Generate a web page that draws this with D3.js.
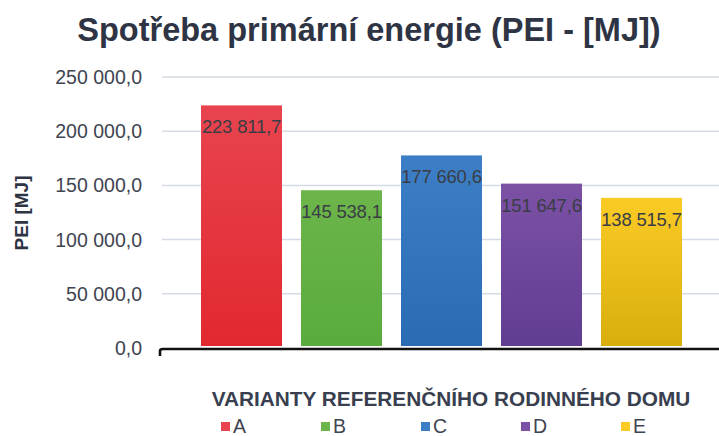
<!DOCTYPE html>
<html>
<head>
<meta charset="utf-8">
<script src="https://cdn.jsdelivr.net/npm/d3@7"></script>
<style>
  body { margin: 0; background: #fff; }
  svg { display: block; font-family: "Liberation Sans", Arial, sans-serif; }
</style>
</head>
<body>
<script>
// values
const categories = ["A", "B", "C", "D", "E"];
const values = [223811.7, 145538.1, 177660.6, 151647.6, 138515.7];
const yTicks = [0, 50000, 100000, 150000, 200000, 250000];
const topColors = ["#e8444f", "#6cb54a", "#3d7fc7", "#7b51a5", "#fbcb25"];
const bottomColors = ["#e2282f", "#5aab3d", "#2a6cb4", "#613d92", "#d8ae0d"];

const width = 719, height = 436;

const csLocale = d3.formatLocale({decimal: ",", thousands: "\u00a0", grouping: [3], currency: ["", ""]});
const fmt = csLocale.format(",.1f");

const svg = d3.select("body").append("svg")
    .attr("width", width)
    .attr("height", height);

const x = d3.scaleBand()
    .domain(categories)
    .range([191.5, 691.5])
    .paddingInner(0.19)
    .paddingOuter(0.095);

const y = d3.scaleLinear()
    .domain([0, 250000])
    .range([348, 77]);

// gradients for bars
const defs = svg.append("defs");
categories.forEach(function(c, i) {
  const g = defs.append("linearGradient")
      .attr("id", "grad" + c)
      .attr("x1", 0).attr("y1", 0).attr("x2", 0).attr("y2", 1);
  g.append("stop").attr("offset", "0%").attr("stop-color", topColors[i]);
  g.append("stop").attr("offset", "100%").attr("stop-color", bottomColors[i]);
});

// title
svg.append("text")
    .attr("x", 369)
    .attr("y", 41)
    .attr("text-anchor", "middle")
    .style("font-size", "32.5px")
    .style("font-weight", "bold")
    .style("fill", "#2e3444")
    .text("Spotřeba primární energie (PEI - [MJ])");

// grid lines
svg.append("g")
  .selectAll("line")
  .data(yTicks.filter(function(d) { return d > 0; }))
  .enter().append("line")
    .attr("x1", 162)
    .attr("x2", width)
    .attr("y1", function(d) { return y(d); })
    .attr("y2", function(d) { return y(d); })
    .style("stroke", "#d6dce6")
    .style("stroke-width", 1.5);

// y axis tick labels
svg.append("g")
  .selectAll("text")
  .data(yTicks)
  .enter().append("text")
    .attr("x", 142)
    .attr("y", function(d) { return y(d); })
    .attr("dy", "0.36em")
    .attr("text-anchor", "end")
    .style("font-size", "19.5px")
    .style("fill", "#3f4451")
    .text(function(d) { return fmt(d); });

// y axis title
svg.append("text")
    .attr("transform", "translate(28,213) rotate(-90)")
    .attr("text-anchor", "middle")
    .style("font-size", "19px")
    .style("font-weight", "bold")
    .style("fill", "#2e3444")
    .text("PEI [MJ]");

// bars
svg.append("g")
  .selectAll("rect")
  .data(values)
  .enter().append("rect")
    .attr("x", function(d, i) { return x(categories[i]); })
    .attr("y", function(d) { return y(d); })
    .attr("width", x.bandwidth())
    .attr("height", function(d) { return y(0) - 2 - y(d); })
    .style("fill", function(d, i) { return "url(#grad" + categories[i] + ")"; });

// value labels inside bars
svg.append("g")
  .selectAll("text")
  .data(values)
  .enter().append("text")
    .attr("x", function(d, i) { return x(categories[i]) + x.bandwidth() / 2; })
    .attr("y", function(d) { return y(d) + 28; })
    .attr("text-anchor", "middle")
    .style("font-size", "18.5px")
    .style("fill", "#3a3d45")
    .style("letter-spacing", "-0.2px")
    .text(function(d) { return fmt(d); });

// baseline with small hook on the left
const y0 = y(0) + 1;
svg.append("path")
    .attr("d", "M160," + (y0 + 7) + " L160," + (y0 + 2) + " Q160," + y0 + " 163," + y0 + " L" + width + "," + y0)
    .style("fill", "none")
    .style("stroke", "#111")
    .style("stroke-width", 2.6);

// x axis title
svg.append("text")
    .attr("x", 451)
    .attr("y", 406)
    .attr("text-anchor", "middle")
    .style("font-size", "20.8px")
    .style("font-weight", "bold")
    .style("fill", "#393f4f")
    .text("VARIANTY REFERENČNÍHO RODINNÉHO DOMU");

// legend
const legend = svg.append("g")
  .selectAll("g")
  .data(categories)
  .enter().append("g")
    .attr("transform", function(d) { return "translate(" + (x(d) + 20) + ",0)"; });

legend.append("rect")
    .attr("x", 0)
    .attr("y", 422)
    .attr("width", 9)
    .attr("height", 9)
    .style("fill", function(d, i) { return topColors[i]; });

legend.append("text")
    .attr("x", 12)
    .attr("y", 433)
    .style("font-size", "19.5px")
    .style("fill", "#3f4451")
    .text(function(d) { return d; });
</script>
</body>
</html>
